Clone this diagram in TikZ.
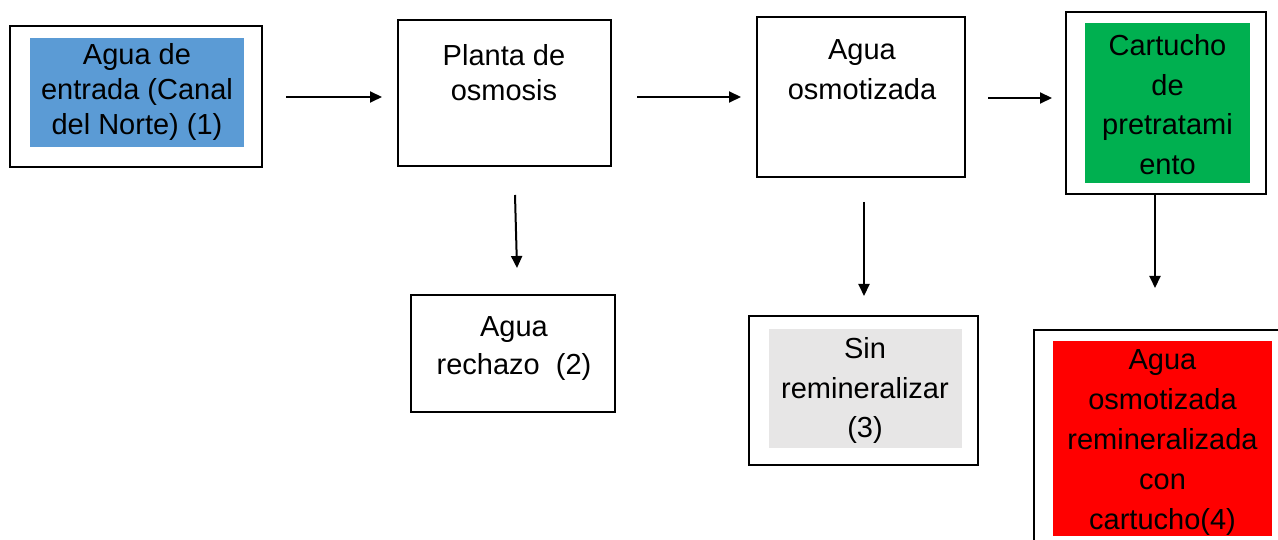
\documentclass[tikz,border=0pt]{standalone}
\usepackage{fontspec}
\setmainfont{Liberation Sans}
\usetikzlibrary{arrows.meta}
\definecolor{cblue}{HTML}{5B9BD5}
\definecolor{cgreen}{HTML}{00B050}
\definecolor{cred}{HTML}{FF0000}
\definecolor{cgrey}{HTML}{E7E6E6}
\tikzset{
  box/.style={draw=black, line width=2pt, fill=white, inner sep=0pt},
  fillbox/.style={inner sep=0pt, draw=none},
  txt/.style={align=center, inner sep=0pt, font=\fontsize{29}{#1}\selectfont},
  conn/.style={line width=2pt, -{Triangle[length=12pt,width=11pt]}}
}
\begin{document}
\begin{tikzpicture}[x=1pt,y=-1pt]
\useasboundingbox (0,0) rectangle (1278,540);
\clip (0,0) rectangle (1278,540);
% box 1
\node[box, minimum width=252, minimum height=141] (b1) at (136,96.5) {};
\node[fillbox, fill=cblue, minimum width=214, minimum height=109] (b1f) at (137,92.5) {};
\node[txt=35] (t1) at (137,92) {Agua de\\entrada (Canal\\del Norte) (1)};
% box 2
\node[box, minimum width=213, minimum height=146] (b2) at (504.5,93) {};
\node[txt=35] (t2) at (504,72.5) {Planta de\\osmosis};
% box 3
\node[box, minimum width=208, minimum height=160] (b3) at (861,97) {};
\node[txt=40] (t3) at (862,70) {Agua\\osmotizada};
% box 4
\node[box, minimum width=200, minimum height=182] (b4) at (1166,103) {};
\node[fillbox, fill=cgreen, minimum width=165, minimum height=160] (b4f) at (1167.5,103) {};
\node[txt=39.5] (t4) at (1167.5,104.5) {Cartucho\\de\\pretratami\\ento};
% box 5
\node[box, minimum width=204, minimum height=117] (b5) at (513,353.5) {};
\node[txt=38] (t5) at (514,349) {Agua\\rechazo\ \ (2)};
% box 6
\node[box, minimum width=229, minimum height=149] (b6) at (863.5,390.5) {};
\node[fillbox, fill=cgrey, minimum width=193, minimum height=119] (b6f) at (865.5,388.5) {};
\node[txt=39.5] (t6) at (865,390.5) {Sin\\remineralizar\\(3)};
% box 7
\node[box, minimum width=250, minimum height=230] (b7) at (1159,445) {};
\node[fillbox, fill=cred, minimum width=219, minimum height=195] (b7f) at (1162.5,438.5) {};
\node[txt=40] (t7) at (1162.5,442.5) {Agua\\osmotizada\\remineralizada\\con\\cartucho(4)};
% connectors
\coordinate (a1s) at (286,97); \coordinate (a1e) at (382,97);
\coordinate (a2s) at (637,97); \coordinate (a2e) at (741,97);
\coordinate (a3s) at (988,98); \coordinate (a3e) at (1052,98);
\coordinate (a4s) at (515,195); \coordinate (a4e) at (517,268);
\coordinate (a5s) at (864,202); \coordinate (a5e) at (864,296);
\coordinate (a6s) at (1155,195); \coordinate (a6e) at (1155,288);
\draw[conn] (a1s) -- (a1e);
\draw[conn] (a2s) -- (a2e);
\draw[conn] (a3s) -- (a3e);
\draw[conn] (a4s) -- (a4e);
\draw[conn] (a5s) -- (a5e);
\draw[conn] (a6s) -- (a6e);
\end{tikzpicture}
\end{document}
